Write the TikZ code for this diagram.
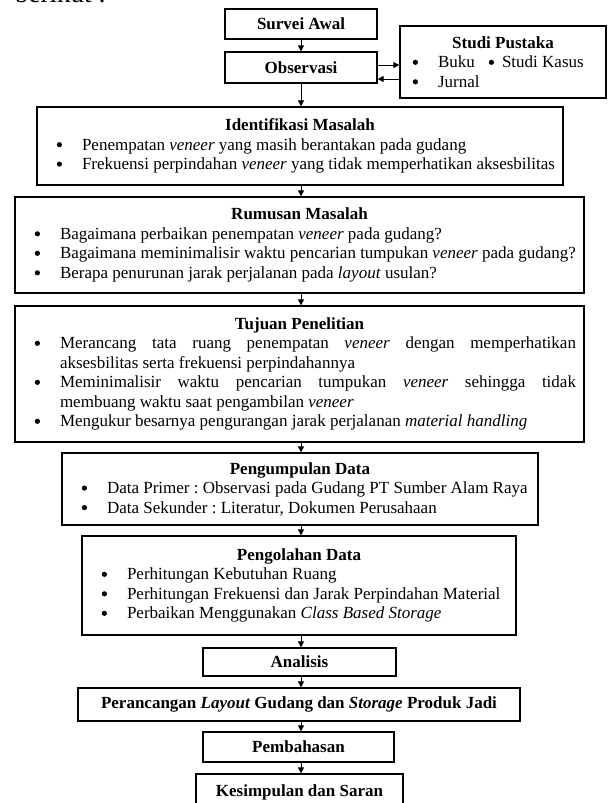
\documentclass[tikz,border=0pt]{standalone}
\usepackage{fontspec}
\setmainfont{Liberation Serif}
\usetikzlibrary{arrows.meta}
\setlength{\parindent}{0pt}
\frenchspacing

\newcommand{\titik}{\tikz[baseline={(0,-5.5pt)}]\fill (0,0) circle (2.6pt);}
\newenvironment{butir}[1][37pt]{\begin{list}{\titik}{\setlength{\leftmargin}{#1}\setlength{\labelwidth}{15pt}\setlength{\labelsep}{20pt}\setlength{\itemsep}{0pt}\setlength{\parsep}{0pt}\setlength{\topsep}{0pt}\setlength{\partopsep}{0pt}\setlength{\itemindent}{0pt}}}{\end{list}}

\begin{document}
\begin{tikzpicture}[x=1pt, y=-1pt,
  kotak/.style={draw, line width=1.3pt, inner sep=0pt, font=\fontsize{17}{19.5}\selectfont\bfseries},
  daftar/.style={draw, line width=1.3pt, inner xsep=8pt, inner ysep=0pt, align=justify, font=\fontsize{17}{19.5}\selectfont},
  pan/.style={line width=1pt, -{Triangle[length=6pt, width=6pt]}}]
\useasboundingbox (0,0) rectangle (608,803);
\node[anchor=base west, inner sep=0pt, font=\fontsize{27}{27}\selectfont] (awal) at (15,2.5) {berikut :};
\node[kotak, minimum width=152, minimum height=30] (survei) at (301,24) {Survei Awal};
\node[kotak, minimum width=152, minimum height=31] (obs) at (301,67.5) {Observasi};
\node[daftar, text width=190, minimum height=72] (pustaka) at (503,62) {{\centering\bfseries Studi Pustaka\par}\begin{butir}[30pt]\item Buku\hspace{14pt}\titik\hspace{8pt}Studi Kasus \item Jurnal\end{butir}};
\node[daftar, text width=510, minimum height=78] (ident) at (300,146) {{\centering\bfseries Identifikasi Masalah\par}\begin{butir}\item Penempatan \textit{veneer} yang masih berantakan pada gudang \item Frekuensi perpindahan \textit{veneer} yang tidak memperhatikan aksesbilitas\end{butir}};
\node[daftar, text width=553, minimum height=96] (rumusan) at (299.5,245) {{\centering\bfseries Rumusan Masalah\par}\begin{butir}\item Bagaimana perbaikan penempatan \textit{veneer} pada gudang? \item Bagaimana meminimalisir waktu pencarian tumpukan \textit{veneer} pada gudang? \item Berapa penurunan jarak perjalanan pada \textit{layout} usulan?\end{butir}};
\node[daftar, text width=553, minimum height=136] (tujuan) at (299.5,374) {{\centering\bfseries Tujuan Penelitian\par}\begin{butir}\item Merancang tata ruang penempatan \textit{veneer} dengan memperhatikan\linebreak aksesbilitas serta frekuensi perpindahannya \item Meminimalisir waktu pencarian tumpukan \textit{veneer} sehingga tidak\linebreak membuang waktu saat pengambilan \textit{veneer} \item Mengukur besarnya pengurangan jarak perjalanan \textit{material handling}\end{butir}};
\node[daftar, text width=460, minimum height=72] (kumpul) at (300,489) {{\centering\bfseries Pengumpulan Data\par}\begin{butir}\item Data Primer : Observasi pada Gudang PT Sumber Alam Raya \item Data Sekunder : Literatur, Dokumen Perusahaan\end{butir}};
\node[daftar, text width=418, minimum height=99] (olah) at (299,585.5) {{\centering\bfseries Pengolahan Data\par}\begin{butir}\item Perhitungan Kebutuhan Ruang \item Perhitungan Frekuensi dan Jarak Perpindahan Material \item Perbaikan Menggunakan \textit{Class Based Storage}\end{butir}};
\node[kotak, minimum width=193, minimum height=28] (analisis) at (299.5,662) {Analisis};
\node[kotak, minimum width=442, minimum height=33] (rancang) at (299,704.5) {Perancangan \textit{Layout} Gudang dan \textit{Storage} Produk Jadi};
\node[kotak, minimum width=191, minimum height=30] (bahas) at (298.5,747) {Pembahasan};
\node[kotak, minimum width=207, minimum height=36] (simpul) at (299.5,792) {Kesimpulan dan Saran};
\draw[pan] (survei.south) -- (obs.north);
\draw[pan] ([yshift=2.5pt]obs.east) -- ([yshift=2.5pt]obs.east -| pustaka.west);
\draw[pan] ([yshift=-11.5pt]obs.east -| pustaka.west) -- ([yshift=-11.5pt]obs.east);
\draw[pan] (obs.south) -- (obs.south |- ident.north);
\draw[pan] (obs.south |- ident.south) -- (obs.south |- rumusan.north);
\draw[pan] (obs.south |- rumusan.south) -- (obs.south |- tujuan.north);
\draw[pan] (obs.south |- tujuan.south) -- (obs.south |- kumpul.north);
\draw[pan] (obs.south |- kumpul.south) -- (obs.south |- olah.north);
\draw[pan] (obs.south |- olah.south) -- (obs.south |- analisis.north);
\draw[pan] (obs.south |- analisis.south) -- (obs.south |- rancang.north);
\draw[pan] (obs.south |- rancang.south) -- (obs.south |- bahas.north);
\draw[pan] (obs.south |- bahas.south) -- (obs.south |- simpul.north);
\end{tikzpicture}
\end{document}
